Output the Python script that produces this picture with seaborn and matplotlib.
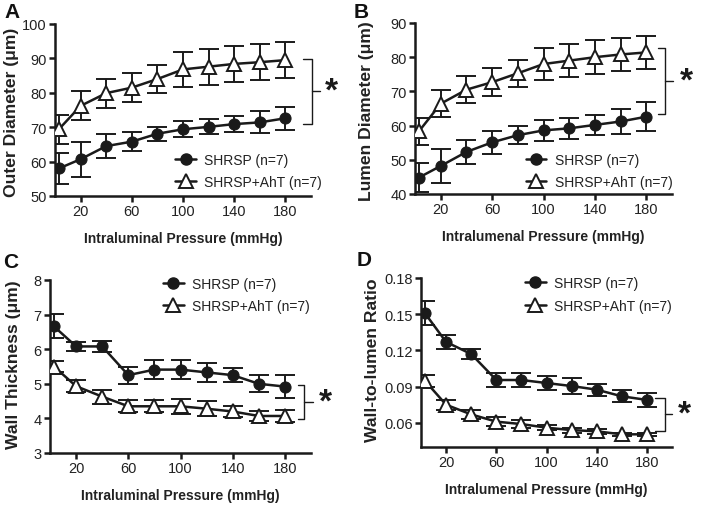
import matplotlib
matplotlib.use("Agg")
import matplotlib.pyplot as plt
from matplotlib.lines import Line2D
import seaborn as sns
import pandas as pd

sns.set_theme(style="ticks")
plt.rcParams['font.family'] = ['Liberation Sans', 'DejaVu Sans']

pressure = [3, 20, 40, 60, 80, 100, 120, 140, 160, 180]
groups = ["SHRSP (n=7)", "SHRSP+AhT (n=7)"]

# Panel A: outer diameter
od_shrsp = [58.0, 60.7, 64.5, 65.8, 68.1, 69.4, 70.1, 70.9, 71.4, 72.6]
od_shrsp_err = [4.4, 5.1, 3.4, 2.8, 2.0, 2.3, 2.2, 2.3, 3.2, 3.3]
od_aht = [69.4, 76.2, 79.9, 81.5, 84.0, 86.8, 87.6, 88.4, 88.9, 89.5]
od_aht_err = [4.2, 4.2, 4.2, 4.2, 4.0, 5.2, 5.2, 5.3, 5.2, 5.2]

# Panel B: lumen diameter
ld_shrsp = [44.8, 48.2, 52.3, 55.1, 57.2, 58.6, 59.2, 60.2, 61.2, 62.6]
ld_shrsp_err = [4.2, 5.0, 3.4, 3.3, 2.7, 3.1, 3.1, 3.0, 3.6, 4.2]
ld_aht = [58.3, 66.4, 70.5, 72.7, 75.3, 78.0, 79.0, 80.0, 80.8, 81.4]
ld_aht_err = [3.9, 4.0, 4.0, 4.1, 4.0, 4.8, 4.8, 5.0, 4.9, 4.9]

# Panel C: wall thickness
wt_shrsp = [6.66, 6.08, 6.08, 5.25, 5.41, 5.41, 5.33, 5.25, 5.00, 4.92]
wt_shrsp_err = [0.35, 0.14, 0.15, 0.25, 0.27, 0.27, 0.27, 0.2, 0.25, 0.32]
wt_aht = [5.50, 4.93, 4.63, 4.35, 4.35, 4.35, 4.28, 4.20, 4.07, 4.07]
wt_aht_err = [0.17, 0.18, 0.2, 0.17, 0.17, 0.22, 0.22, 0.17, 0.15, 0.17]

# Panel D: wall-to-lumen ratio
wl_shrsp = [0.151, 0.127, 0.117, 0.0955, 0.0955, 0.093, 0.0905, 0.0875, 0.082, 0.079]
wl_shrsp_err = [0.010, 0.006, 0.004, 0.006, 0.006, 0.006, 0.0065, 0.005, 0.005, 0.006]
wl_aht = [0.095, 0.075, 0.067, 0.061, 0.059, 0.056, 0.054, 0.053, 0.0505, 0.0505]
wl_aht_err = [0.005, 0.004, 0.004, 0.004, 0.003, 0.002, 0.002, 0.002, 0.001, 0.001]

fig = plt.figure(figsize=(7.03, 5.06), dpi=100)
W, H = 703.0, 506.0

def rect(l, r, t, b):
    return [l / W, (H - b) / H, (r - l) / W, (b - t) / H]

INK = "#1a1a1a"
TXT = "#222222"

panels = [
    dict(letter="A", lpos=(12, 13), rect=rect(55, 311, 25, 197), s=od_shrsp, se=od_shrsp_err, a=od_aht, ae=od_aht_err,
         ylim=(50, 100), yticks=[50, 60, 70, 80, 90, 100], fmt="{:.0f}",
         ylabel="Outer Diameter (\u03bcm)", xlabel="Intraluminal Pressure (mmHg)", ylx=-0.168, yly=0.49,
         legend_loc=(0.47, 0.25), bracket=(71.0, 89.8), bx=(193.5, 200.8, 207, 211)),
    dict(letter="B", lpos=(361, 13), rect=rect(415, 672, 24, 195), s=ld_shrsp, se=ld_shrsp_err, a=ld_aht, ae=ld_aht_err,
         ylim=(40, 90), yticks=[40, 50, 60, 70, 80, 90], fmt="{:.0f}",
         ylabel="Lumen Diameter (\u03bcm)", xlabel="Intralumenal Pressure (mmHg)", ylx=-0.19, yly=0.49,
         legend_loc=(0.43, 0.24), bracket=(63.5, 82.7), bx=(189, 194.5, 200.8, 206)),
    dict(letter="C", lpos=(11, 263), rect=rect(50, 311, 281, 454), s=wt_shrsp, se=wt_shrsp_err, a=wt_aht, ae=wt_aht_err,
         ylim=(3, 8), yticks=[3, 4, 5, 6, 7, 8], fmt="{:.0f}",
         ylabel="Wall Thickness (\u03bcm)", xlabel="Intraluminal Pressure (mmHg)", ylx=-0.138, yly=0.515,
         legend_loc=(0.433, 1.02), bracket=(3.98, 4.97), bx=(190, 195, 201.5, 206)),
    dict(letter="D", lpos=(364, 261), rect=rect(421, 672, 279, 448), s=wl_shrsp, se=wl_shrsp_err, a=wl_aht, ae=wl_aht_err,
         ylim=(0.04, 0.18), yticks=[0.06, 0.09, 0.12, 0.15, 0.18], fmt="{:.2f}",
         ylabel="Wall-to-lumen Ratio", xlabel="Intralumenal Pressure (mmHg)", ylx=-0.195, yly=0.52,
         legend_loc=(0.414, 1.01), bracket=(0.0535, 0.0806), bx=(186.5, 194.4, 200, 205)),
]

for p in panels:
    ax = fig.add_axes(p["rect"])
    df = pd.DataFrame({
        "pressure": pressure * 2,
        "value": list(p["s"]) + list(p["a"]),
        "err": list(p["se"]) + list(p["ae"]),
        "group": [groups[0]] * len(pressure) + [groups[1]] * len(pressure),
    })
    for g in groups:
        sub = df[df["group"] == g]
        ax.errorbar(sub["pressure"], sub["value"], yerr=sub["err"], fmt="none",
                    ecolor=INK, elinewidth=1.4, capsize=7, capthick=1.4, zorder=2)
    sns.lineplot(data=df, x="pressure", y="value", hue="group", style="group",
                 palette={groups[0]: INK, groups[1]: INK},
                 markers={groups[0]: "o", groups[1]: "^"}, dashes=False,
                 linewidth=1.8, ax=ax, legend=False, zorder=3)
    for l in ax.get_lines():
        if l.get_marker() == "o":
            l.set_markersize(8)
            l.set_markerfacecolor(INK)
            l.set_markeredgecolor(INK)
            l.set_zorder(4)
        elif l.get_marker() == "^":
            l.set_markersize(9.5)
            l.set_markerfacecolor("white")
            l.set_markeredgecolor(INK)
            l.set_markeredgewidth(1.4)
            l.set_zorder(4)

    ax.set_xlim(0, 200)
    ax.set_ylim(*p["ylim"])
    ax.set_xticks([20, 60, 100, 140, 180])
    ax.set_yticks(p["yticks"])
    ax.set_yticklabels([p["fmt"].format(v) for v in p["yticks"]])
    sns.despine(ax=ax)
    for s in ("left", "bottom"):
        ax.spines[s].set_linewidth(1.8)
        ax.spines[s].set_color(INK)
    ax.tick_params(axis="both", direction="out", length=4, width=1.8, color=INK,
                   labelsize=10.5, labelcolor=TXT, pad=2)
    ax.set_xlabel(p["xlabel"], fontsize=10, fontweight="bold", color=TXT, labelpad=9)
    ax.set_ylabel(p["ylabel"], fontsize=12.6, fontweight="bold", color=TXT)
    ax.yaxis.set_label_coords(p["ylx"], p["yly"])
    ax.yaxis.label.set_verticalalignment("center")
    fig.text(p["lpos"][0] / W, 1 - p["lpos"][1] / H, p["letter"], fontsize=15,
             fontweight="bold", ha="center", va="center", color="#111111")

    h1 = Line2D([], [], color=INK, lw=1.8, marker="o", ms=8, mfc=INK)
    h2 = Line2D([], [], color=INK, lw=1.8, marker="^", ms=9.5, mfc="white", mew=1.4)
    leg = ax.legend([h1, h2], groups, loc="upper left", bbox_to_anchor=p["legend_loc"],
                    frameon=False, fontsize=10, handlelength=1.5, handletextpad=0.6,
                    labelspacing=0.6, borderaxespad=0, borderpad=0)
    for t in leg.get_texts():
        t.set_color(TXT)

    lo, hi = p["bracket"]
    x0, x1, x2, xs = p["bx"]
    ax.plot([x0, x1, x1, x0], [hi, hi, lo, lo], color=INK, lw=1.0, clip_on=False)
    mid = (lo + hi) / 2
    ax.plot([x1, x2], [mid, mid], color=INK, lw=1.0, clip_on=False)
    ax.text(xs, mid, "*", fontsize=24, fontweight="bold", ha="left", va="center",
            color=INK, clip_on=False)

fig.savefig("out.png", dpi=100)
